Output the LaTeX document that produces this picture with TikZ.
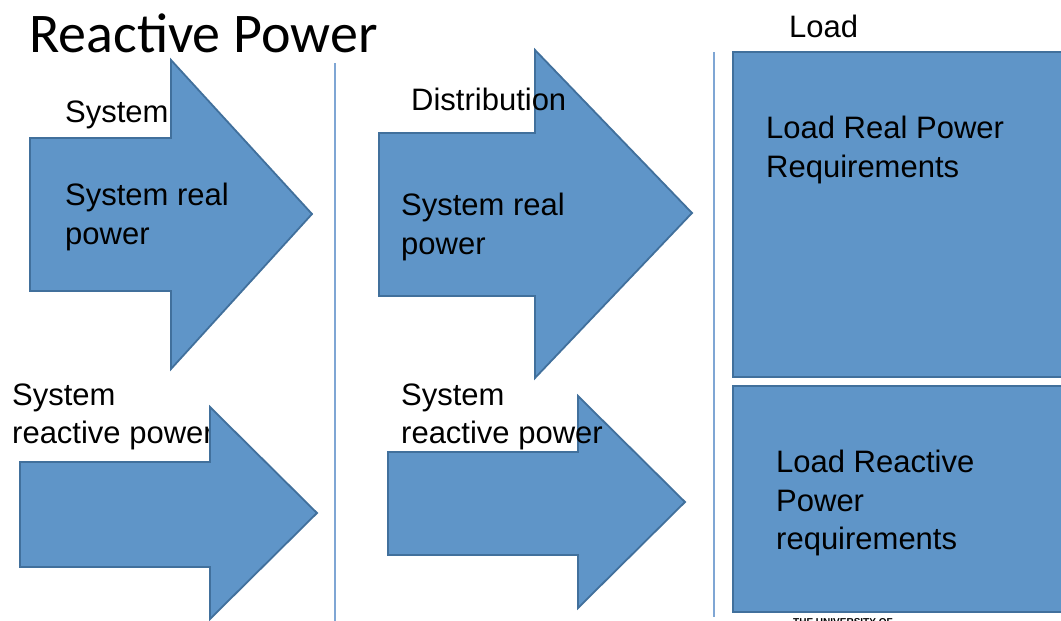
\documentclass[tikz,border=0pt]{standalone}
\usepackage{fontspec}
\setmainfont{Liberation Sans}
\newfontfamily\titlefont{Carlito}
\definecolor{boxfill}{HTML}{5F95C8}
\definecolor{boxline}{HTML}{41709C}
\definecolor{sepline}{HTML}{7FA6D4}
\begin{document}
\begin{tikzpicture}[x=1pt,y=-1pt,
  shapebox/.style={fill=boxfill,draw=boxline,line width=1.8pt,line join=miter},
  lbl/.style={anchor=base west,inner sep=0pt,font=\fontsize{31}{36}\selectfont,text=black},
  sep/.style={draw=sepline,line width=1.3pt}]
\clip (0,0) rectangle (1061,621);
\useasboundingbox (0,0) rectangle (1061,621);
\fill[white] (0,0) rectangle (1061,621);
% title
\node[anchor=base west,inner sep=0pt,font=\titlefont\fontsize{56}{64}\selectfont] (title) at (29,52) {Reactive Power};
% separators
\coordinate (s1t) at (335,63); \coordinate (s1b) at (335,621);
\coordinate (s2t) at (714,52); \coordinate (s2b) at (714,617);
\draw[sep] (s1t) -- (s1b);
\draw[sep] (s2t) -- (s2b);
% column labels
\node[lbl] (lsys) at (65,122) {System};
\node[lbl] (lload) at (789,37) {Load};
% arrow 1: system real power
\draw[shapebox] (30,138) -- (171,138) -- (171,60) -- (312,214) -- (171,369) -- (171,291) -- (30,291) -- cycle;
\node[lbl] (a1l1) at (65,205) {System real};
\node[lbl] (a1l2) at (65,244) {power};
% arrow 2: distribution real power
\draw[shapebox] (379,133) -- (535,133) -- (535,50) -- (692,213) -- (535,378) -- (535,296) -- (379,296) -- cycle;
\node[lbl] (ldist) at (411,110) {Distribution};
\node[lbl] (a2l1) at (401,215) {System real};
\node[lbl] (a2l2) at (401,254) {power};
% arrow 3: system reactive power (text behind arrow)
\node[lbl] (a3l1) at (12,405) {System};
\node[lbl] (a3l2) at (12,443) {reactive power};
\draw[shapebox] (20,462) -- (210,462) -- (210,407) -- (317,513) -- (210,619) -- (210,567) -- (20,567) -- cycle;
% arrow 4: distribution reactive power (text over arrow)
\draw[shapebox] (388,452) -- (578,452) -- (578,396) -- (685,502) -- (578,608) -- (578,555) -- (388,555) -- cycle;
\node[lbl] (a4l1) at (401,405) {System};
\node[lbl] (a4l2) at (401,443) {reactive power};
% load boxes
\draw[shapebox] (733,52) rectangle (1075,377);
\node[lbl] (b1l1) at (766,138) {Load Real Power};
\node[lbl] (b1l2) at (766,177) {Requirements};
\draw[shapebox] (733,386) rectangle (1075,612);
\node[lbl] (b2l1) at (776,472) {Load Reactive};
\node[lbl] (b2l2) at (776,511) {Power};
\node[lbl] (b2l3) at (776,549) {requirements};
% footer (cut off at the lower edge, as in the reference)
\node[anchor=base west,inner sep=0pt,font=\bfseries\fontsize{10}{12}\selectfont] (foot) at (793,625) {THE UNIVERSITY OF};
\end{tikzpicture}
\end{document}
